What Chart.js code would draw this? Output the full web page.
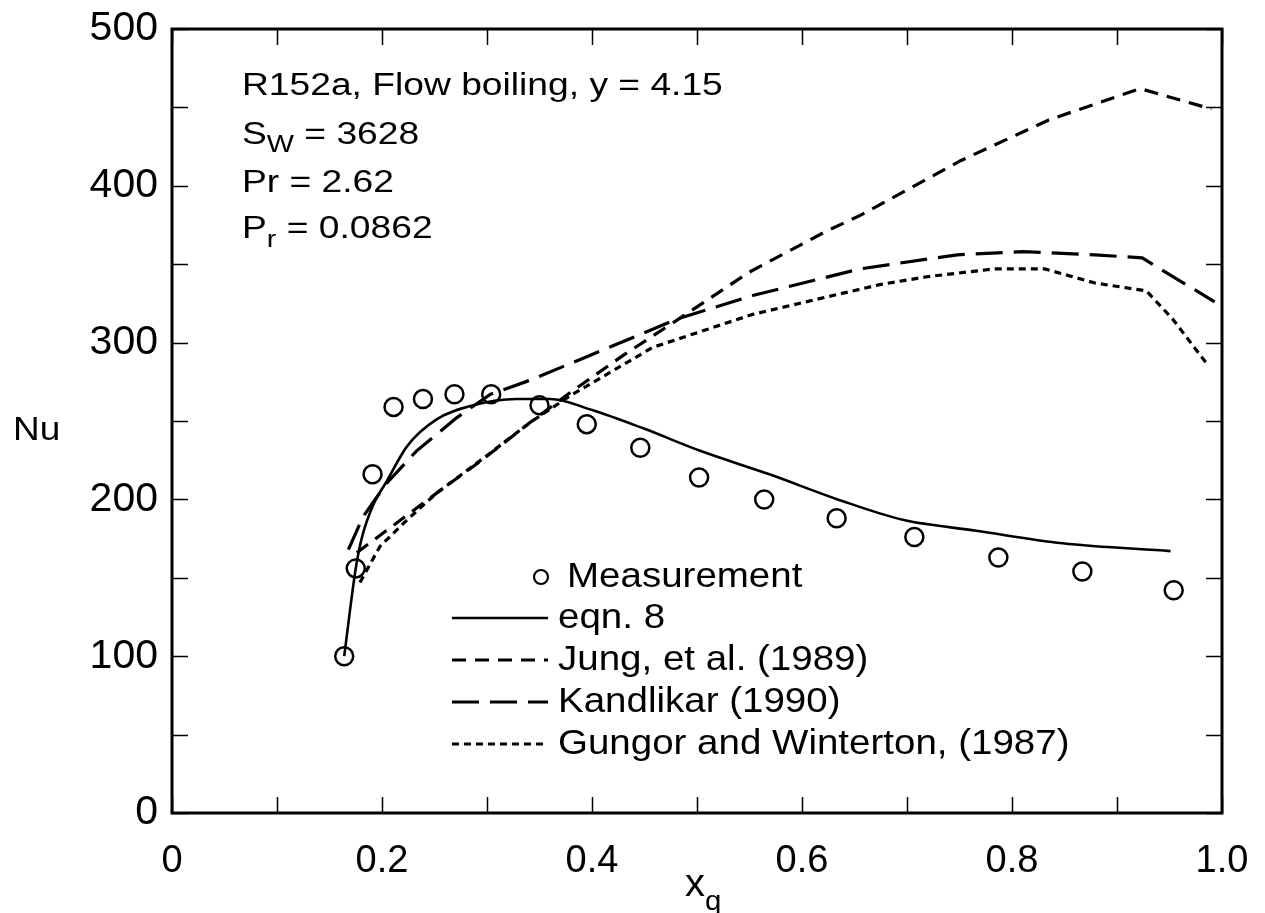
<!DOCTYPE html>
<html>
<head>
<meta charset="utf-8">
<script src="https://cdn.jsdelivr.net/npm/chart.js@4.4.1/dist/chart.umd.min.js"></script>
<style>
  html, body { margin: 0; padding: 0; background: #fff; }
  #wrap { width: 1265px; height: 913px; }
</style>
</head>
<body>
<div id="wrap"><canvas id="nu-chart" width="1265" height="913"></canvas></div>
<script>
// R152a flow boiling – Nu vs. quality, measurement vs. correlations

const FONT = '"Liberation Sans", Arial, Helvetica, sans-serif';

// --- data ---
const measX = [0.164, 0.175, 0.191, 0.211, 0.239, 0.269, 0.304, 0.350, 0.395, 0.446, 0.502, 0.564, 0.633, 0.707, 0.787, 0.867, 0.954];
const measNu = [100, 156, 216, 259, 264, 267, 267, 260, 248, 233, 214, 200, 188, 176, 163, 154, 142];

const eqn8X = [0.164, 0.175, 0.181, 0.192, 0.204, 0.224, 0.252, 0.287, 0.328, 0.360, 0.400, 0.450, 0.503, 0.569, 0.634, 0.696, 0.766, 0.848, 0.951];
const eqn8Nu = [100, 156, 176, 197, 211, 234, 251, 260, 264, 264, 257, 245, 231, 216, 200, 187, 180, 172, 167];

const jungX = [0.176, 0.214, 0.252, 0.293, 0.341, 0.379, 0.430, 0.487, 0.550, 0.623, 0.655, 0.751, 0.835, 0.922, 0.990];
const jungNu = [166, 185, 204, 224, 249, 268, 292, 317, 345, 371, 381, 416, 442, 462, 449];

const kandX = [0.168, 0.182, 0.204, 0.233, 0.271, 0.303, 0.341, 0.395, 0.481, 0.553, 0.655, 0.748, 0.810, 0.879, 0.924, 0.993];
const kandNu = [168, 189, 210, 231, 252, 267, 276, 291, 315, 330, 347, 356, 358, 356, 354, 326];

const gungX = [0.179, 0.198, 0.224, 0.252, 0.300, 0.341, 0.379, 0.458, 0.553, 0.674, 0.719, 0.783, 0.831, 0.879, 0.928, 0.953, 0.985];
const gungNu = [147, 170, 187, 204, 228, 249, 266, 297, 318, 337, 342, 347, 347, 338, 333, 315, 287];

const xTickLabels = ['0', '0.2', '0.4', '0.6', '0.8', '1.0'];
const yTickLabels = ['0', '100', '200', '300', '400', '500'];

const legendLabels = ['Measurement', 'eqn. 8', 'Jung, et al. (1989)', 'Kandlikar (1990)', 'Gungor and Winterton, (1987)'];

function pts(xs, ys) {
  return xs.map((x, i) => ({ x, y: ys[i] }));
}

// Text with a slight horizontal stretch (the scanned figure's type is wide).
// Returns the drawn width.
function wideText(ctx, str, x, y, size, sx) {
  ctx.save();
  ctx.font = `${size}px ${FONT}`;
  ctx.translate(x, y);
  ctx.scale(sx, 1);
  ctx.fillText(str, 0, 0);
  const w = ctx.measureText(str).width * sx;
  ctx.restore();
  return w;
}

// Annotation, legend, inner ticks, frame and axis titles.
const decorPlugin = {
  id: 'decor',
  afterDraw(chart) {
    const { ctx, chartArea: a, scales } = chart;
    const xs = scales.x, ys = scales.y;
    ctx.save();
    ctx.strokeStyle = '#000';
    ctx.fillStyle = '#000';

    // frame
    ctx.lineWidth = 3;
    ctx.strokeRect(a.left, a.top, a.right - a.left, a.bottom - a.top);

    // ticks pointing inward, all four sides
    const tl = 16;
    ctx.lineWidth = 1.5;
    ctx.beginPath();
    xs.ticks.forEach((t) => {
      const px = Math.round(xs.getPixelForValue(t.value)) + 0.5;
      ctx.moveTo(px, a.bottom); ctx.lineTo(px, a.bottom - tl);
      ctx.moveTo(px, a.top); ctx.lineTo(px, a.top + tl);
    });
    ys.ticks.forEach((t) => {
      const py = Math.round(ys.getPixelForValue(t.value)) + 0.5;
      ctx.moveTo(a.left, py); ctx.lineTo(a.left + tl, py);
      ctx.moveTo(a.right, py); ctx.lineTo(a.right - tl, py);
    });
    ctx.stroke();

    // axis titles
    ctx.textBaseline = 'middle';
    ctx.textAlign = 'left';
    wideText(ctx, 'Nu', 13, 431, 33, 1.12);
    const xtx = (a.left + a.right) / 2 - 12;
    const xw = wideText(ctx, 'x', xtx, 886, 38, 1.05);
    wideText(ctx, 'q', xtx + xw, 902, 28, 1.05);

    // annotation block
    const ax = a.left + 70;
    const fs = 31, sub = 24, sx = 1.2;
    wideText(ctx, 'R152a, Flow boiling, y = 4.15', ax, 86, fs, sx);
    let w = wideText(ctx, 'S', ax, 135, fs, sx);
    w += wideText(ctx, 'W', ax + w, 145, sub, sx);
    wideText(ctx, ' = 3628', ax + w, 135, fs, sx);
    wideText(ctx, 'Pr = 2.62', ax, 183, fs, sx);
    w = wideText(ctx, 'P', ax, 229, fs, sx);
    w += wideText(ctx, 'r', ax + w, 240, sub, sx);
    wideText(ctx, ' = 0.0862', ax + w, 229, fs, sx);

    // legend
    const lx0 = 452, lx1 = 548, tx = 558;
    const rows = [577, 618, 660, 702, 744];
    chart.data.datasets.forEach((ds, i) => {
      const y = rows[i];
      if (i === 0) {
        ctx.lineWidth = 2.2;
        ctx.beginPath();
        ctx.arc(541, y, 7, 0, Math.PI * 2);
        ctx.stroke();
        wideText(ctx, legendLabels[i], 567, y, 35, 1.1);
        return;
      }
      ctx.lineWidth = ds.borderWidth;
      ctx.setLineDash(ds.borderDash || []);
      ctx.beginPath();
      ctx.moveTo(lx0, y);
      ctx.lineTo(lx1, y);
      ctx.stroke();
      ctx.setLineDash([]);
      wideText(ctx, legendLabels[i], tx, y, 35, 1.1);
    });
    ctx.restore();
  },
};

const lineBase = {
  showLine: true,
  pointRadius: 0,
  borderColor: '#000',
  backgroundColor: '#000',
  fill: false,
  tension: 0,
};

new Chart(document.getElementById('nu-chart'), {
  type: 'scatter',
  data: {
    datasets: [
      {
        label: legendLabels[0],
        data: pts(measX, measNu),
        showLine: false,
        pointRadius: 9,
        pointBorderWidth: 2.5,
        pointBorderColor: '#000',
        pointBackgroundColor: 'rgba(0,0,0,0)',
        borderColor: '#000',
        order: 0,
      },
      { ...lineBase, label: legendLabels[1], data: pts(eqn8X, eqn8Nu), borderWidth: 2.6, cubicInterpolationMode: 'monotone' },
      { ...lineBase, label: legendLabels[2], data: pts(jungX, jungNu), borderWidth: 3.2, borderDash: [14, 9] },
      { ...lineBase, label: legendLabels[3], data: pts(kandX, kandNu), borderWidth: 3.2, borderDash: [27, 11] },
      { ...lineBase, label: legendLabels[4], data: pts(gungX, gungNu), borderWidth: 3.2, borderDash: [7, 5] },
    ],
  },
  options: {
    responsive: false,
    animation: false,
    devicePixelRatio: 1,
    layout: { padding: { top: 29, right: 43, left: 0, bottom: 0 } },
    plugins: { legend: { display: false }, tooltip: { enabled: false } },
    scales: {
      x: {
        type: 'linear',
        min: 0,
        max: 1,
        grid: { display: false, drawTicks: false },
        border: { display: false },
        ticks: {
          stepSize: 0.1,
          padding: 26,
          color: '#000',
          font: { family: FONT, size: 38 },
          maxRotation: 0,
          autoSkip: false,
          callback: (v) => {
            const k = Math.round(v * 10);
            return k % 2 === 0 ? xTickLabels[k / 2] : '';
          },
        },
        afterFit: (s) => { s.height = 100; s.paddingLeft = 0; s.paddingRight = 0; },
      },
      y: {
        type: 'linear',
        min: 0,
        max: 500,
        grid: { display: false, drawTicks: false },
        border: { display: false },
        ticks: {
          stepSize: 50,
          padding: 14,
          color: '#000',
          font: { family: FONT, size: 41 },
          autoSkip: false,
          callback: (v) => (v % 100 === 0 ? yTickLabels[v / 100] : ''),
        },
        afterFit: (s) => { s.width = 172; s.paddingTop = 0; s.paddingBottom = 0; },
      },
    },
  },
  plugins: [decorPlugin],
});
</script>
</body>
</html>
